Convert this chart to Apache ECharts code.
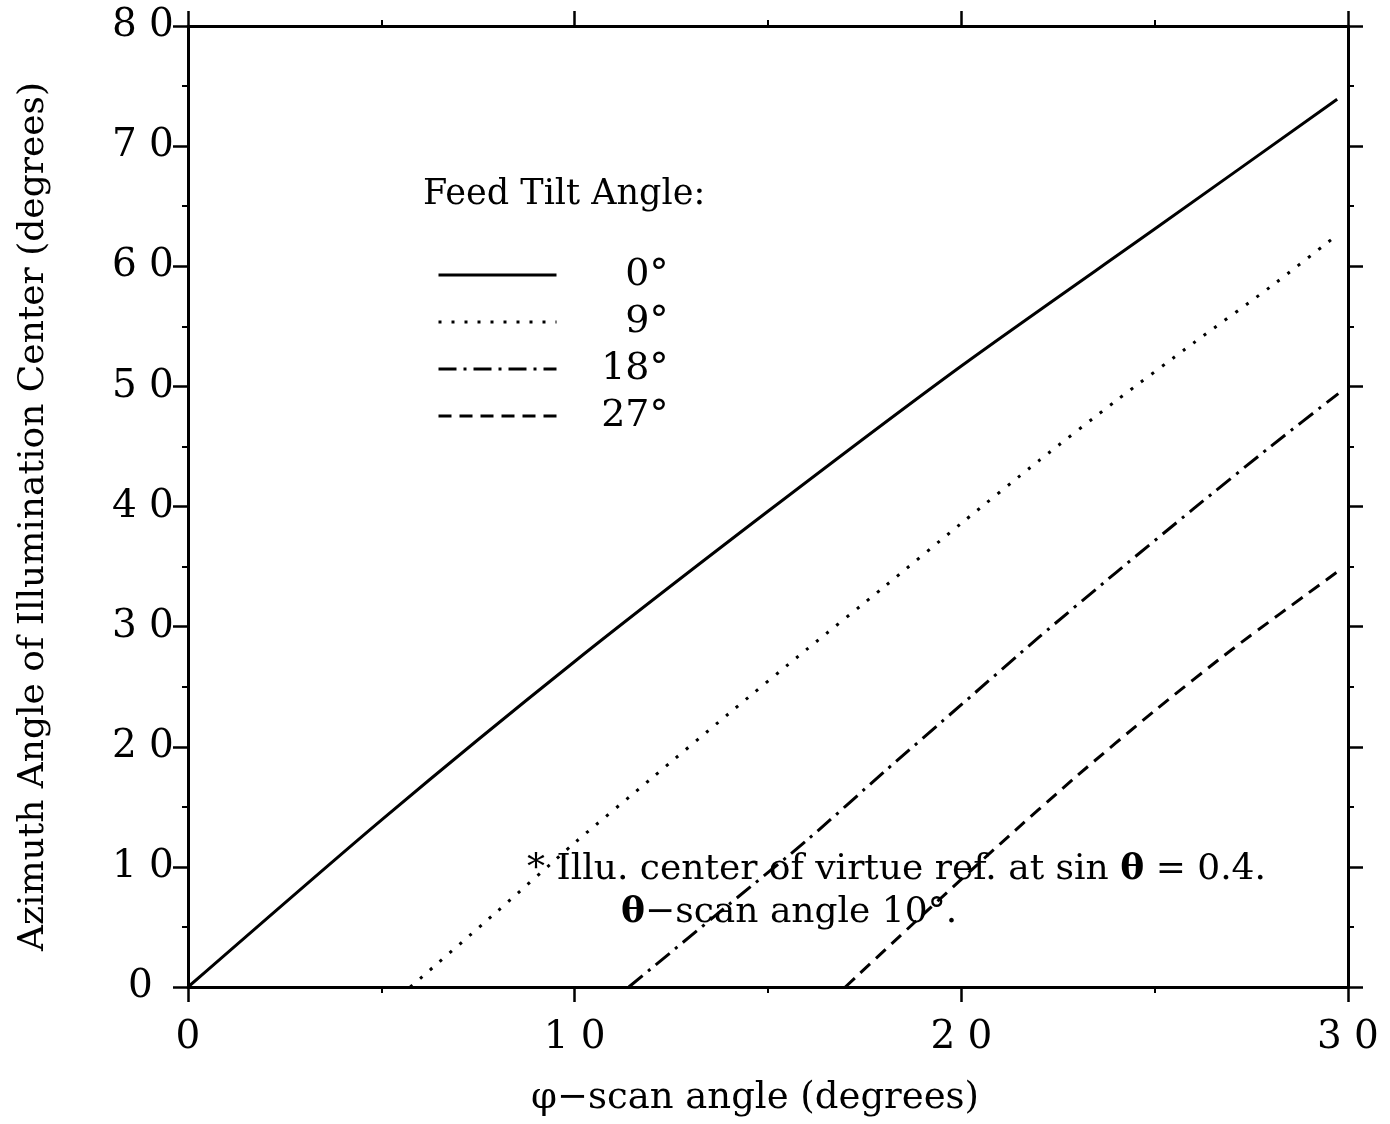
<!DOCTYPE html>
<html><head><meta charset="utf-8">
<script src="https://cdn.jsdelivr.net/npm/echarts@6/dist/echarts.min.js"></script>
<style>html,body{margin:0;padding:0;background:#fff}#c{width:1390px;height:1124px}</style>
</head><body><div id="c"></div>
<script>
// ---- data ----
const seriesNames = ['0°', '9°', '18°', '27°'];
const tilt0X  = [0, 5, 10, 15, 20, 25, 29.72];
const tilt0Y  = [0, 13.9, 27.1, 39.6, 51.7, 63.1, 73.9];
const tilt9X  = [5.75, 8, 10, 12, 14, 16, 18, 20, 22, 24, 26, 28, 29.6];
const tilt9Y  = [0, 6.3, 12.0, 17.4, 22.8, 28.1, 33.3, 38.6, 43.8, 48.8, 53.6, 58.3, 62.3];
const tilt18X = [11.4, 14, 16, 18, 20, 22, 24, 26, 28, 29.75];
const tilt18Y = [0, 6.9, 12.2, 17.9, 23.5, 29.1, 34.5, 39.8, 45.0, 49.4];
const tilt27X = [17, 19, 21, 23, 25, 27, 29.7];
const tilt27Y = [0, 6.0, 11.9, 17.6, 23.0, 28.1, 34.5];
const xTickLabels = ['0', '10', '20', '30'];
const yTickLabels = ['0', '10', '20', '30', '40', '50', '60', '70', '80'];
const xTitle = 'φ−scan angle (degrees)';
const yTitle = 'Azimuth Angle of Illumination Center (degrees)';
const legendTitle = 'Feed Tilt Angle:';
const noteLine1 = ['* Illu. center of virtue ref. at sin ', 'θ', ' = 0.4.'];
const noteLine2 = ['θ', '−scan angle 10°.'];

const FONT = '"DejaVu Serif", "Liberation Serif", serif';
const pairs = (xs, ys) => xs.map((x, i) => [x, ys[i]]);
const wide = (s) => String(s).split('').map(c => '{d|' + c + '}').join('');

const lineSeries = (name, data, type) => ({
  name, type: 'line', data, symbol: 'none', showSymbol: false, smooth: 0.25,
  xAxisIndex: 0, yAxisIndex: 0, clip: false,
  lineStyle: { color: '#000', width: 3, type, cap: 'butt' },
  itemStyle: { color: '#000' }
});

const richDigits = { d: { width: 37, align: 'center', fontSize: 39, fontFamily: FONT, color: '#000' },
                     s: { width: 21 } };

const axisCommon = {
  axisLine: { show: true, onZero: false, lineStyle: { color: '#000', width: 3 } },
  axisTick: { show: true, inside: false, length: 15, lineStyle: { color: '#000', width: 2.5 } },
  minorTick: { show: true, splitNumber: 2, length: 6, lineStyle: { color: '#000', width: 2 } },
  splitLine: { show: false }, minorSplitLine: { show: false }
};

const chart = echarts.init(document.getElementById('c'));
chart.setOption({
  backgroundColor: '#fff',
  animation: false,
  grid: { left: 188, right: 42, top: 26, bottom: 137, containLabel: false, outerBoundsMode: 'none' },
  xAxis: [
    Object.assign({ type: 'value', min: 0, max: 30, interval: 10, position: 'bottom',
      name: xTitle, nameLocation: 'middle', nameGap: 93, nameMoveOverlap: false,
      nameTextStyle: { fontFamily: FONT, fontSize: 37, color: '#000', padding: [0, 26, 0, 0] },
      axisLabel: { show: true, margin: 31, rich: richDigits,
        formatter: (v) => xTickLabels.indexOf(String(v)) >= 0 ? wide(v) : '' } }, axisCommon),
    Object.assign({ type: 'value', min: 0, max: 30, interval: 10, position: 'top',
      axisLabel: { show: false } }, axisCommon)
  ],
  yAxis: [
    Object.assign({ type: 'value', min: 0, max: 80, interval: 10, position: 'left',
      name: yTitle, nameLocation: 'middle', nameGap: 136, nameRotate: 90,
      nameTextStyle: { fontFamily: FONT, fontSize: 36, color: '#000', padding: [0, 20, 0, 0] },
      axisLabel: { show: true, margin: 8, rich: richDigits,
        formatter: (v) => {
          const s = String(v);
          if (yTickLabels.indexOf(s) < 0) return '';
          return s.length === 1 ? wide(s) + '{s|}' : wide(s);
        } } }, axisCommon),
    Object.assign({ type: 'value', min: 0, max: 80, interval: 10, position: 'right',
      axisLabel: { show: false } }, axisCommon)
  ],
  legend: {
    data: seriesNames, orient: 'vertical', left: 437, top: 255, padding: 0,
    itemWidth: 118, itemHeight: 20, itemGap: 7,
    selectedMode: false,
    itemStyle: { opacity: 0, borderWidth: 0 },
    lineStyle: { width: 3 },
    formatter: (n) => '{a|' + n + '}',
    textStyle: { fontFamily: FONT, fontSize: 38, color: '#000', lineHeight: 40,
      rich: { a: { width: 107, align: 'right', fontSize: 38, fontFamily: FONT, color: '#000', lineHeight: 40 } } }
  },
  graphic: [
    { type: 'text', left: 423, top: 177,
      style: { text: legendTitle, font: '35px ' + FONT, fill: '#000' } },
    { type: 'text', left: 527, top: 852,
      style: { text: '{n|' + noteLine1[0] + '}{b|' + noteLine1[1] + '}{n|' + noteLine1[2] + '}',
        rich: { n: { font: '36px ' + FONT, fill: '#000' }, b: { font: 'bold 36px ' + FONT, fill: '#000' } } } },
    { type: 'text', left: 621, top: 895,
      style: { text: '{b|' + noteLine2[0] + '}{n|' + noteLine2[1] + '}',
        rich: { n: { font: '36px ' + FONT, fill: '#000' }, b: { font: 'bold 36px ' + FONT, fill: '#000' } } } }
  ],
  series: [
    lineSeries(seriesNames[0], pairs(tilt0X, tilt0Y), 'solid'),
    lineSeries(seriesNames[1], pairs(tilt9X, tilt9Y), [3, 10]),
    lineSeries(seriesNames[2], pairs(tilt18X, tilt18Y), [18, 7, 3, 7]),
    lineSeries(seriesNames[3], pairs(tilt27X, tilt27Y), [13, 8])
  ]
});
</script></body></html>
